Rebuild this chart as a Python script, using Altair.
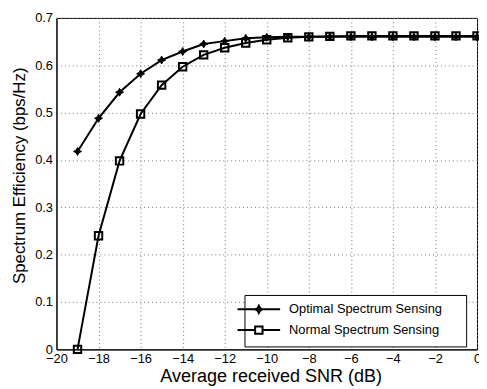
import altair as alt
import pandas as pd

snr = list(range(-19, 1))
optimal = [0.418, 0.488, 0.543, 0.582, 0.611, 0.629, 0.645, 0.651, 0.657, 0.659,
           0.660, 0.660, 0.660, 0.660, 0.660, 0.660, 0.660, 0.660, 0.660, 0.660]
normal = [0.0, 0.240, 0.398, 0.497, 0.558, 0.597, 0.622, 0.637, 0.647, 0.654,
          0.658, 0.660, 0.661, 0.662, 0.662, 0.662, 0.662, 0.662, 0.662, 0.662]
series_names = ["Optimal Spectrum Sensing", "Normal Spectrum Sensing"]
x_ticks = list(range(-20, 1, 2))
y_ticks = [0, 0.1, 0.2, 0.3, 0.4, 0.5, 0.6, 0.7]

rows = []
for s, vals in zip(series_names, [optimal, normal]):
    for xv, yv in zip(snr, vals):
        rows.append({"snr": xv, "eff": yv, "series": s})
df = pd.DataFrame(rows)

FONT = "Liberation Sans"
STAR = "M0,-1L0.35,-0.35L1,0L0.35,0.35L0,1L-0.35,0.35L-1,0L-0.35,-0.35Z"
LEG_OPT = "M-4.3,0H4.3M0,-0.75L0.25,-0.25L0.75,0L0.25,0.25L0,0.75L-0.25,0.25L-0.75,0L-0.25,-0.25Z"
LEG_NOR = "M-4.3,0H-0.75M0.75,0H4.3M-0.75,-0.75H0.75V0.75H-0.75Z"

x_enc = alt.X("snr:Q", scale=alt.Scale(domain=[-20, 0], nice=False),
              axis=alt.Axis(values=x_ticks, title="Average received SNR (dB)",
                            titleFontSize=18.2, titleFontWeight="normal", titlePadding=2,
                            titleX=216.5,
                            labelFontSize=13, labelPadding=3, tickSize=0, labelFlush=False,
                            grid=True, gridDash=[1, 3], gridColor="#777777",
                            domainColor="black", labelColor="black", titleColor="black"))
y_enc = alt.Y("eff:Q", scale=alt.Scale(domain=[0, 0.7], nice=False),
              axis=alt.Axis(values=y_ticks, format=".1~f", title="Spectrum Efficiency (bps/Hz)",
                            titleFontSize=17, titleFontWeight="normal", titlePadding=6,
                            titleY=159,
                            labelFontSize=13, labelPadding=4, tickSize=0, labelFlush=False,
                            grid=True, gridDash=[1, 3], gridColor="#777777",
                            domainColor="black", labelColor="black", titleColor="black"))

lines = alt.Chart(df).mark_line(color="black", strokeWidth=2).encode(
    x=x_enc, y=y_enc, detail="series:N",
)

legend_layer = alt.Chart(df).mark_point(
    opacity=0, filled=False, color="black", strokeWidth=2
).encode(
    x="snr:Q", y="eff:Q",
    shape=alt.Shape(
        "series:N",
        scale=alt.Scale(domain=series_names, range=[LEG_OPT, LEG_NOR]),
        legend=alt.Legend(
            title=" ", titleOrient="right", titlePadding=16, titleFontSize=4,
            orient="none", legendX=190, legendY=280,
            labelFontSize=13, labelFont=FONT, labelColor="black",
            symbolSize=100, labelOffset=24, rowPadding=4, padding=8,
            symbolOpacity=1, symbolStrokeWidth=2, symbolStrokeColor="black",
            symbolFillColor="transparent",
            strokeColor="black", fillColor="white", cornerRadius=0,
        ),
    ),
)

opt_pts = alt.Chart(df).transform_filter(
    alt.datum.series == series_names[0]
).mark_point(shape=STAR, size=64, filled=True, color="black", stroke="black",
             strokeWidth=1, opacity=1).encode(x="snr:Q", y="eff:Q")

nor_pts = alt.Chart(df).transform_filter(
    alt.datum.series == series_names[1]
).mark_point(shape="square", size=56, filled=False, color="black",
             strokeWidth=2, opacity=1).encode(x="snr:Q", y="eff:Q")

chart = alt.layer(lines, opt_pts, nor_pts, legend_layer).properties(
    width=425, height=335,
    autosize=alt.AutoSizeParams(type="none"),
    padding={"left": 49, "top": 8, "right": 2, "bottom": 37},
).configure(font=FONT, background="white").configure_view(
    stroke="black", strokeWidth=1
)

chart.save("out.html", embed_options={"renderer": "svg", "actions": False})
